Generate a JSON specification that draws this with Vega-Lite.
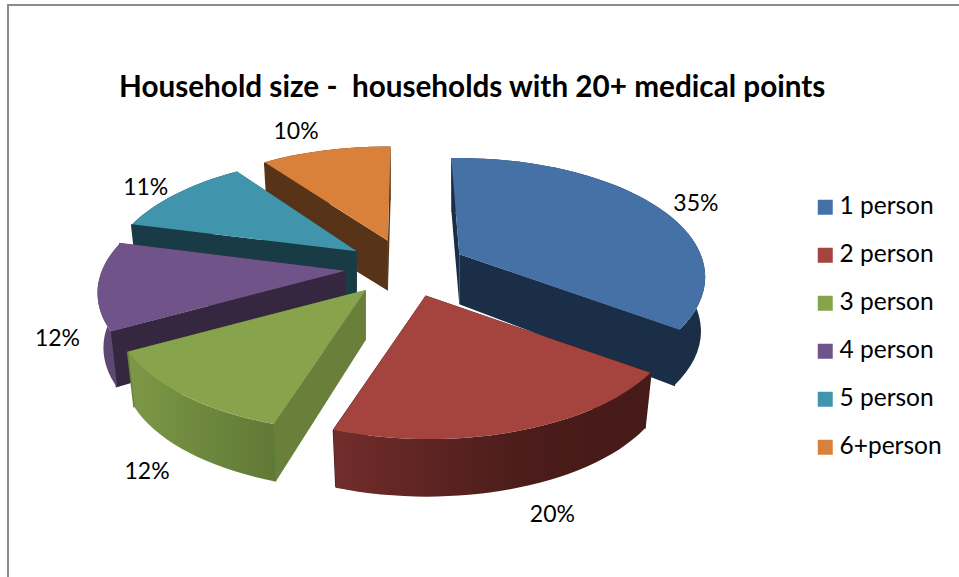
{
  "$schema": "https://vega.github.io/schema/vega-lite/v6.json",
  "autosize": "none",
  "padding": {"left": 8, "top": 5, "right": -10, "bottom": -10},
  "width": 961,
  "height": 582,
  "background": "white",
  "view": {"stroke": "#8c8c8c", "strokeWidth": 2, "fill": "white"},
  "title": {
    "text": "Household size - \u00a0households with 20+ medical points",
    "font": "Lato",
    "fontSize": 29.7,
    "fontWeight": "bold",
    "color": "black",
    "anchor": "start",
    "frame": "group",
    "baseline": "alphabetic",
    "offset": 0,
    "dx": 111,
    "dy": 122
  },
  "data": {
    "values": [
      {"name": "1 person", "value": 35},
      {"name": "2 person", "value": 20},
      {"name": "3 person", "value": 12},
      {"name": "4 person", "value": 12},
      {"name": "5 person", "value": 11},
      {"name": "6+person", "value": 10}
    ]
  },
  "transform": [
    {"window": [{"op": "sum", "field": "value", "as": "cum"}]},
    {"calculate": "2*PI*(datum.cum-datum.value)/100", "as": "a1"},
    {"calculate": "2*PI*datum.cum/100", "as": "a2"},
    {"calculate": "(datum.a1+datum.a2)/2", "as": "mid"},
    {"calculate": "0.25*244*sin(datum.mid)/(1+0.25*0.1765*cos(datum.mid))", "as": "ex"},
    {"calculate": "-0.25*115.3*cos(datum.mid)/(1+0.25*0.1765*cos(datum.mid))", "as": "ey"},
    {"calculate": "1+0.0007*max(0,datum.ey)", "as": "near"},
    {"calculate": "round(100*(datum.near*244*sin(datum.a1)/(1+0.1765*cos(datum.a1))-0.15*datum.ex*max(0,cos(datum.a1))))/100", "as": "p1x"},
    {"calculate": "round(100*(-datum.near*115.3*cos(datum.a1)/(1+0.1765*cos(datum.a1))-0.15*datum.ey*max(0,cos(datum.a1))))/100", "as": "p1y"},
    {"calculate": "round(100*(datum.near*244*sin(datum.a2)/(1+0.1765*cos(datum.a2))-0.15*datum.ex*max(0,cos(datum.a2))))/100", "as": "p2x"},
    {"calculate": "round(100*(-datum.near*115.3*cos(datum.a2)/(1+0.1765*cos(datum.a2))-0.15*datum.ey*max(0,cos(datum.a2))))/100", "as": "p2y"},
    {"calculate": "round(97.3*datum.p1x)/100", "as": "b1x"},
    {"calculate": "round(100*(datum.p1y+54+4*max(0,-cos(datum.a1))))/100", "as": "b1y"},
    {"calculate": "round(97.3*datum.p2x)/100", "as": "b2x"},
    {"calculate": "round(100*(datum.p2y+54+4*max(0,-cos(datum.a2))))/100", "as": "b2y"},
    {"calculate": "244*sin(datum.mid)/(1+0.1765*cos(datum.mid))", "as": "rimX"},
    {"calculate": "-115.3*cos(datum.mid)/(1+0.1765*cos(datum.mid))", "as": "rimY"},
    {"calculate": "3+1.42*datum.rimX+(cos(datum.mid)<0?18:26)*(sin(datum.mid)>0?1:-1)*pow(cos(datum.mid),4)", "as": "labelX"},
    {"calculate": "5+1.4*datum.rimY+(cos(datum.mid)<0?44-15*cos(datum.mid):-10*pow(cos(datum.mid),4))", "as": "labelY"},
    {"calculate": "datum.value+'%'", "as": "label"}
  ],
  "encoding": {
    "x": {"type": "quantitative", "axis": null, "scale": {"domain": [-398, 563]}},
    "y": {"type": "quantitative", "axis": null, "scale": {"domain": [-262, 320], "reverse": true}}
  },
  "layer": [
    {
      "transform": [
        {"calculate": "'M0,0L'+datum.p1x+','+datum.p1y+'A247.9,119,0,0,1,'+datum.p2x+','+datum.p2y+'Z'", "as": "top"},
        {"calculate": "'M'+datum.p1x+','+datum.p1y+'A247.9,119,0,0,1,'+datum.p2x+','+datum.p2y+'L'+datum.b2x+','+datum.b2y+'A241.2,119,0,0,0,'+datum.b1x+','+datum.b1y+'Z'", "as": "rim"},
        {"calculate": "'M0,0L'+(1.006*datum.p1x)+','+datum.p1y+'L'+(1.006*datum.b1x)+','+datum.b1y+'L0,50Z'", "as": "wallA"},
        {"calculate": "'M0,0L'+(1.006*datum.p2x)+','+datum.p2y+'L'+(1.006*datum.b2x)+','+datum.b2y+'L0,50Z'", "as": "wallB"},
        {"fold": ["wallA", "wallB", "rim", "top"], "as": ["face", "path"]},
        {"calculate": "datum.face=='top'?datum.name:datum.name+(datum.face=='rim'?' rim':' wall')", "as": "part"},
        {"calculate": "10*indexof(['6+person','5 person','4 person','3 person','1 person','2 person'],datum.name)+indexof(['wallA','rim','top'],datum.face=='wallB'?'wallA':datum.face)", "as": "paint"}
      ],
      "mark": {"type": "point", "filled": true, "size": 4, "opacity": 1, "strokeWidth": 0},
      "encoding": {
        "x": {"field": "ex"},
        "y": {"field": "ey"},
        "shape": {"field": "path", "type": "nominal", "scale": null},
        "order": {"field": "paint", "type": "quantitative"},
        "color": {
          "field": "part",
          "type": "nominal",
          "scale": {
            "domain": [
              "1 person", "2 person", "3 person", "4 person", "5 person", "6+person",
              "1 person wall", "2 person wall", "3 person wall", "4 person wall", "5 person wall", "6+person wall",
              "1 person rim", "2 person rim", "3 person rim", "4 person rim", "5 person rim", "6+person rim"
            ],
            "range": [
              "#4571a7", "#a5433f", "#87a44c", "#705489", "#4095ad", "#d9803b",
              "#1a2e48", "#451a19", "#6a803a", "#362740", "#193b46", "#573317",
              "#1a2e48",
              {"expr": "{gradient:'linear',x1:0,y1:0,x2:1,y2:0,stops:[{offset:0,color:'#712d2b'},{offset:0.6,color:'#4b1c1a'},{offset:1,color:'#451a19'}]}"},
              {"expr": "{gradient:'linear',x1:0,y1:0,x2:1,y2:0,stops:[{offset:0,color:'#7c9846'},{offset:1,color:'#5f7936'}]}"},
              "#5e4773", "#193b46", "#573317"
            ]
          },
          "legend": {
            "values": ["1 person", "2 person", "3 person", "4 person", "5 person", "6+person"],
            "orient": "none",
            "legendX": 805,
            "legendY": 190,
            "title": null,
            "symbolType": "square",
            "symbolSize": 225,
            "symbolStrokeWidth": 0,
            "labelFont": "Lato",
            "labelFontSize": 24.5,
            "labelColor": "black",
            "labelOffset": 2,
            "rowPadding": 23,
            "labelLimit": 200
          }
        }
      }
    },
    {
      "mark": {"type": "text", "font": "Lato", "fontSize": 23, "color": "black", "align": "center", "baseline": "middle"},
      "encoding": {
        "x": {"field": "labelX"},
        "y": {"field": "labelY"},
        "text": {"field": "label", "type": "nominal"}
      }
    }
  ]
}
